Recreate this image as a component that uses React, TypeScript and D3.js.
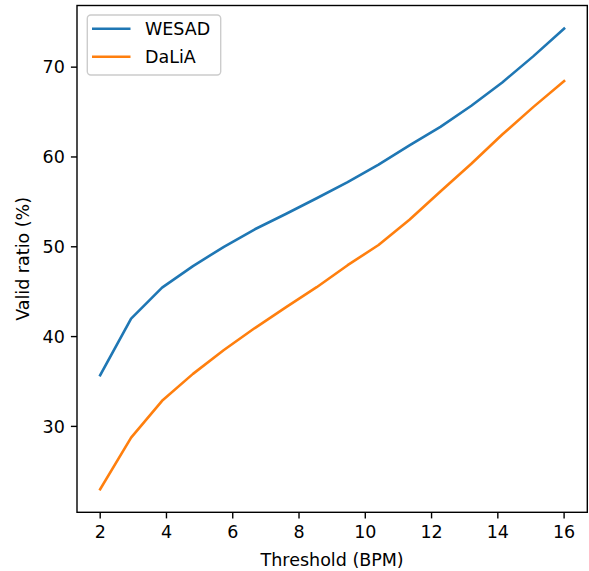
import React from "react";
import * as d3 from "d3";

const thresholds = [2, 2.933, 3.867, 4.8, 5.733, 6.667, 7.6, 8.533, 9.467, 10.4, 11.333, 12.267, 13.2, 14.133, 15.067, 16];
const wesad = [35.7, 42.0, 45.45, 47.85, 50.0, 51.95, 53.65, 55.4, 57.2, 59.15, 61.3, 63.35, 65.7, 68.3, 71.2, 74.3];
const dalia = [23.0, 28.75, 32.85, 35.85, 38.5, 40.95, 43.25, 45.5, 47.95, 50.2, 53.0, 56.15, 59.25, 62.5, 65.55, 68.45];
const xTicks = [2, 4, 6, 8, 10, 12, 14, 16];
const yTicks = [30, 40, 50, 60, 70];
const seriesNames = ["WESAD", "DaLiA"];
const seriesColors = ["#1f77b4", "#ff7f0e"];

const W = 589, H = 571;
const L = 77, R = 587.3, T = 5.5, B = 512.3;
const FS = 17.5;
const FONT = "DejaVu Sans, sans-serif";

export default function App() {
  const allX = thresholds;
  const allY = [...wesad, ...dalia];
  const [x0, x1] = d3.extent(allX) as [number, number];
  const [y0, y1] = d3.extent(allY) as [number, number];
  const mx = (x1 - x0) * 0.05, my = (y1 - y0) * 0.05;
  const x = d3.scaleLinear().domain([x0 - mx, x1 + mx]).range([L, R]);
  const y = d3.scaleLinear().domain([y0 - my, y1 + my]).range([B, T]);
  const series = [wesad, dalia];
  const line = d3.line<number>().x((_, i) => x(thresholds[i])).y((d) => y(d));
  const tl = 6.1;
  return (
    <svg width={W} height={H} style={{ position: "absolute", left: 0, top: 0, background: "#fff" }} fontFamily={FONT}>
      <rect x={0} y={0} width={W} height={H} fill="#fff" />
      {series.map((s, i) => (
        <path key={i} d={line(s) || ""} fill="none" stroke={seriesColors[i]} strokeWidth={2.6} strokeLinecap="square" strokeLinejoin="round" />
      ))}
      <rect x={L} y={T} width={R - L} height={B - T} fill="none" stroke="#000" strokeWidth={1.4} />
      {xTicks.map((t) => (
        <g key={t}>
          <line x1={x(t)} x2={x(t)} y1={B} y2={B + tl} stroke="#000" strokeWidth={1.4} />
          <text x={x(t)} y={B + tl + 6.1} dy="0.76em" textAnchor="middle" fontSize={FS} fill="#000">{t}</text>
        </g>
      ))}
      {yTicks.map((t) => (
        <g key={t}>
          <line x1={L - tl} x2={L} y1={y(t)} y2={y(t)} stroke="#000" strokeWidth={1.4} />
          <text x={L - tl - 6.1} y={y(t)} dy="0.36em" textAnchor="end" fontSize={FS} fill="#000">{t}</text>
        </g>
      ))}
      <text x={(L + R) / 2} y={566} textAnchor="middle" fontSize={FS} fill="#000">Threshold (BPM)</text>
      <text transform={`translate(29, ${(T + B) / 2}) rotate(-90)`} textAnchor="middle" fontSize={FS} fill="#000">Valid ratio (%)</text>
      <g>
        <rect x={87.3} y={15} width={133.4} height={60} rx={3.5} fill="#fff" fillOpacity={0.8} stroke="#cccccc" strokeWidth={1.4} />
        {seriesNames.map((n, i) => (
          <g key={n}>
            <line x1={92} x2={130.5} y1={28.7 + i * 28} y2={28.7 + i * 28} stroke={seriesColors[i]} strokeWidth={2.6} />
            <text x={145} y={28.7 + i * 28} dy="0.36em" fontSize={FS} fill="#000">{n}</text>
          </g>
        ))}
      </g>
    </svg>
  );
}
